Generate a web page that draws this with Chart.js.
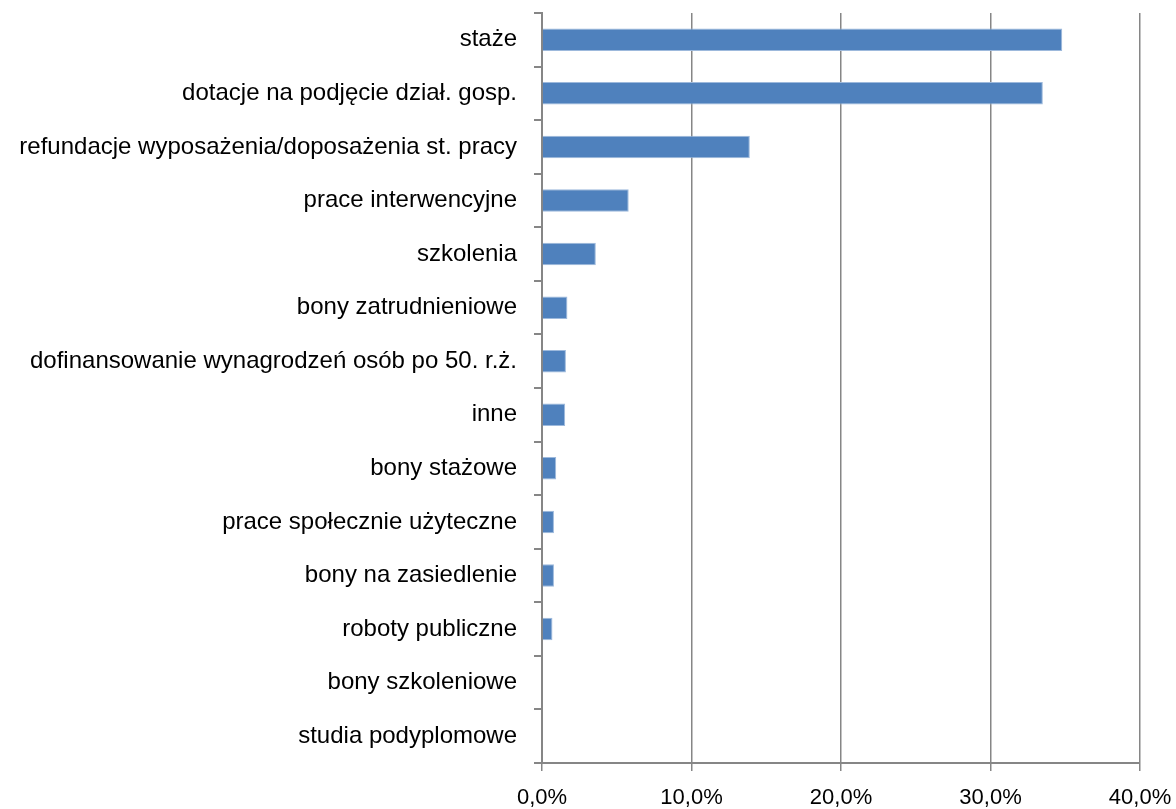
<!DOCTYPE html>
<html>
<head>
<meta charset="utf-8">
<script src="https://cdn.jsdelivr.net/npm/chart.js@4/dist/chart.umd.min.js"></script>
<style>
html,body{margin:0;padding:0;background:#fff;}
#wrap{width:1176px;height:809px;}
</style>
</head>
<body>
<div id="wrap"><canvas id="c" width="1176" height="809"></canvas></div>
<script>
const categories = [
  "staże",
  "dotacje na podjęcie dział. gosp.",
  "refundacje wyposażenia/doposażenia st. pracy",
  "prace interwencyjne",
  "szkolenia",
  "bony zatrudnieniowe",
  "dofinansowanie wynagrodzeń osób po 50. r.ż.",
  "inne",
  "bony stażowe",
  "prace społecznie użyteczne",
  "bony na zasiedlenie",
  "roboty publiczne",
  "bony szkoleniowe",
  "studia podyplomowe"
];
const values = [34.8, 33.5, 13.9, 5.8, 3.6, 1.7, 1.6, 1.55, 0.95, 0.8, 0.8, 0.7, 0, 0];
const xTicks = [0, 10, 20, 30, 40];

const axisGray = '#868686';

new Chart(document.getElementById('c'), {
  type: 'bar',
  data: {
    labels: categories,
    datasets: [{
      data: values,
      backgroundColor: '#4F81BD',
      borderColor: '#9DB9DC',
      borderWidth: 1,
      categoryPercentage: 1,
      barPercentage: 0.42
    }]
  },
  options: {
    indexAxis: 'y',
    responsive: false,
    animation: false,
    devicePixelRatio: 1,
    layout: { padding: 0 },
    plugins: { legend: { display: false }, tooltip: { enabled: false } },
    scales: {
      x: {
        min: 0, max: 40,
        afterBuildTicks: (s) => { s.ticks = xTicks.map(v => ({ value: v })); },
        afterFit: (s) => { s.height = 46; s.paddingLeft = 0; s.paddingRight = 36; },
        border: { color: axisGray, width: 2 },
        grid: { color: axisGray, lineWidth: 1.5, tickLength: 8 },
        ticks: {
          color: '#000',
          padding: 14,
          font: { family: "'Liberation Sans', Arial, sans-serif", size: 22 },
          callback: (v) => v.toFixed(1).replace('.', ',') + '%'
        }
      },
      y: {
        afterFit: (s) => { s.width = 542; s.paddingTop = 13; s.paddingBottom = 0; },
        border: { color: axisGray, width: 2 },
        grid: { offset: true, drawOnChartArea: false, color: axisGray, lineWidth: 2, tickLength: 8 },
        ticks: {
          color: '#000',
          padding: 17,
          font: { family: "'Liberation Sans', Arial, sans-serif", size: 24 }
        }
      }
    }
  }
});
</script>
</body>
</html>
